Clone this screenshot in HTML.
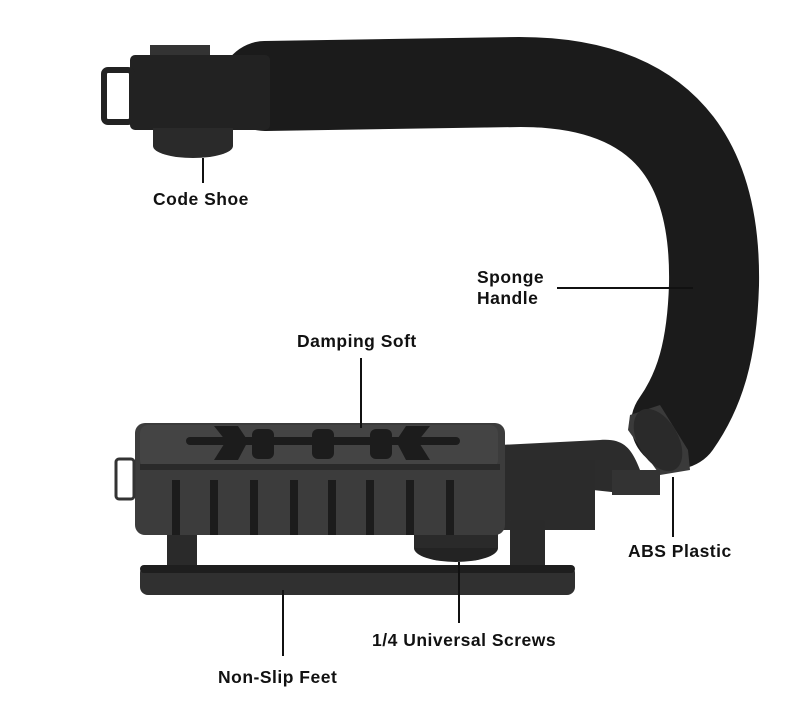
<!DOCTYPE html>
<html><head><style>
html,body{margin:0;padding:0;background:#fff;}
svg{display:block}
text{font-family:"Liberation Sans",sans-serif;font-weight:bold;font-size:17.5px;letter-spacing:0.5px;fill:#111;}
</style></head><body>
<svg width="790" height="723" viewBox="0 0 790 723">
<rect width="790" height="723" fill="#fff"/>
<path d="M265 86 L520 82 C680 82 716 180 714 285 C712 350 700 390 676 424" fill="none" stroke="#1b1b1b" stroke-width="90" stroke-linecap="round"/>
<path d="M500 445 L600 440 C625 438 632 450 640 470 L640 495 L500 480 Z" fill="#2c2c2c"/>
<path d="M630 415 L660 405 L688 450 L690 470 L660 475 L628 430 Z" fill="#3a3a3a"/>
<ellipse cx="658" cy="440" rx="20" ry="34" transform="rotate(-30 658 440)" fill="#2a2a2a"/>
<rect x="612" y="470" width="48" height="25" fill="#333"/>
<rect x="150" y="45" width="60" height="20" fill="#333"/>
<rect x="130" y="55" width="140" height="75" rx="5" fill="#222"/>
<rect x="104" y="70" width="28" height="52" rx="4" fill="none" stroke="#222" stroke-width="6"/>
<ellipse cx="193" cy="146" rx="40" ry="12" fill="#2a2a2a"/>
<rect x="153" y="128" width="80" height="18" fill="#2a2a2a"/>
<rect x="500" y="460" width="95" height="70" fill="#2b2b2b"/>
<rect x="167" y="522" width="30" height="50" rx="3" fill="#2a2a2a"/>
<rect x="510" y="520" width="35" height="50" rx="3" fill="#2a2a2a"/>
<ellipse cx="456" cy="548" rx="42" ry="14" fill="#232323"/>
<rect x="414" y="530" width="84" height="18" fill="#2a2a2a"/>
<rect x="135" y="423" width="370" height="112" rx="10" fill="#3c3c3c"/>
<rect x="140" y="425" width="358" height="43" rx="8" fill="#444"/>
<rect x="140" y="464" width="360" height="6" fill="#2a2a2a"/>
<g fill="#1c1c1c">
<rect x="186" y="437" width="274" height="8" rx="4"/>
<rect x="252" y="429" width="22" height="30" rx="6"/>
<rect x="312" y="429" width="22" height="30" rx="6"/>
<rect x="370" y="429" width="22" height="30" rx="6"/>
<path d="M214 426 L238 426 L248 441 L238 460 L214 460 L226 441 Z"/>
<path d="M430 426 L406 426 L396 441 L406 460 L430 460 L418 441 Z"/>
<rect x="172" y="480" width="8" height="55"/><rect x="210" y="480" width="8" height="55"/>
<rect x="250" y="480" width="8" height="55"/><rect x="290" y="480" width="8" height="55"/>
<rect x="328" y="480" width="8" height="55"/><rect x="366" y="480" width="8" height="55"/>
<rect x="406" y="480" width="8" height="55"/><rect x="446" y="480" width="8" height="55"/>
</g>
<rect x="116" y="459" width="18" height="40" rx="3" fill="none" stroke="#333" stroke-width="3"/>
<rect x="140" y="565" width="435" height="30" rx="8" fill="#303030"/>
<rect x="140" y="565" width="435" height="8" rx="4" fill="#1e1e1e"/>
<g stroke="#111" stroke-width="2">
<line x1="203" y1="158" x2="203" y2="183"/>
<line x1="557" y1="288" x2="693" y2="288"/>
<line x1="361" y1="358" x2="361" y2="428"/>
<line x1="673" y1="477" x2="673" y2="537"/>
<line x1="459" y1="562" x2="459" y2="623"/>
<line x1="283" y1="590" x2="283" y2="656"/>
</g>
<text x="153" y="205">Code Shoe</text>
<text x="477" y="283">Sponge</text>
<text x="477" y="304">Handle</text>
<text x="297" y="347">Damping Soft</text>
<text x="628" y="557">ABS Plastic</text>
<text x="372" y="646">1/4 Universal Screws</text>
<text x="218" y="683">Non-Slip Feet</text>
</svg>
</body></html>
